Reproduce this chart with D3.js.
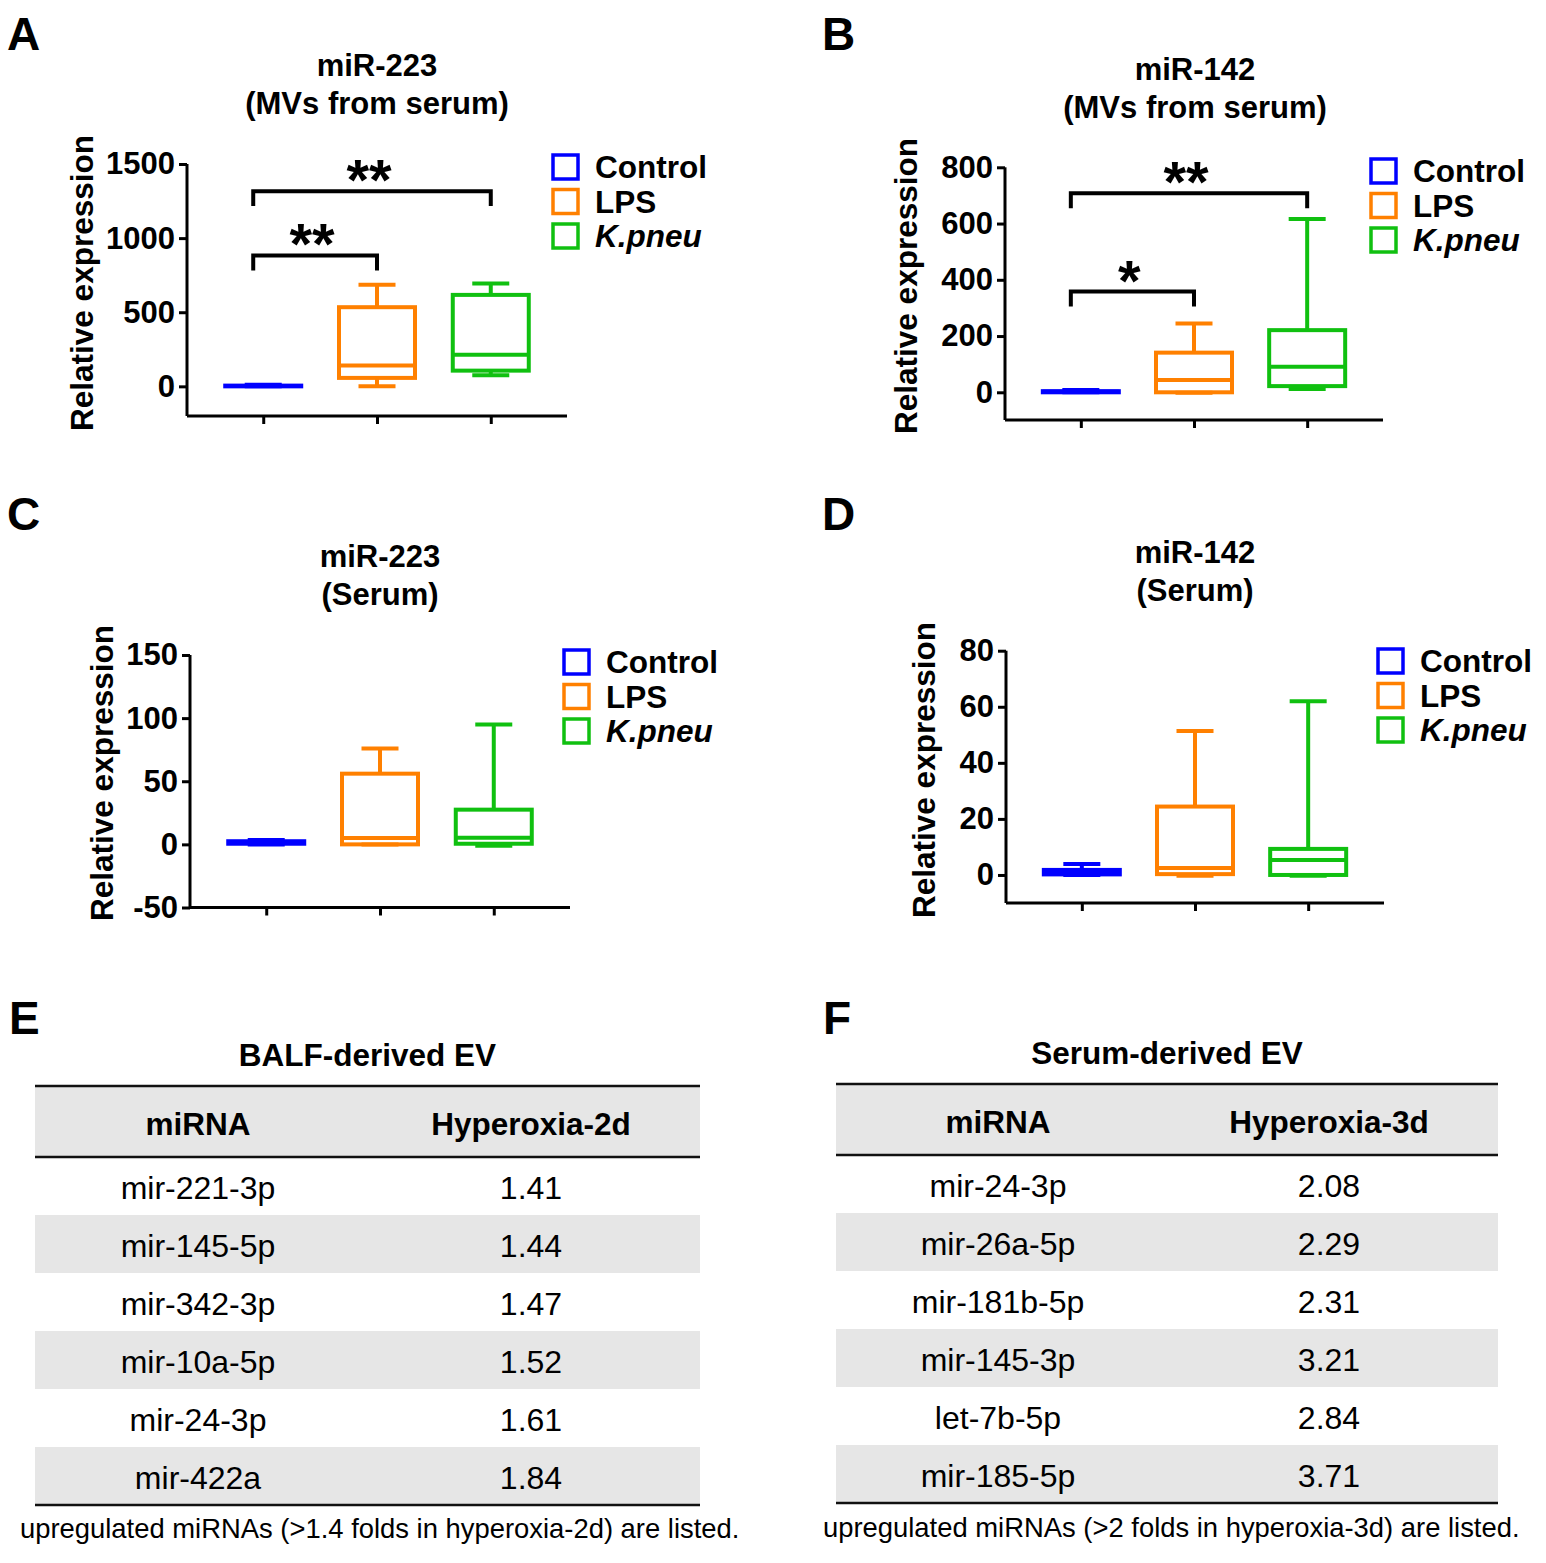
<!DOCTYPE html>
<html>
<head>
<meta charset="utf-8">
<script src="https://cdn.jsdelivr.net/npm/d3@7"></script>
<style>
  html, body { margin: 0; padding: 0; background: #fff; }
  svg { display: block; font-family: Arial, "Liberation Sans", sans-serif; }
</style>
</head>
<body>
<svg id="fig" width="1546" height="1563"></svg>
<script>
// ---------------- DATA ----------------
const groups = ["Control", "LPS", "K.pneu"];
const groupColors = ["#0000ff", "#ff8000", "#10c010"];

// box stats: [min, q1, median, q3, max]
const statsA = [[0, 0, 2, 5, 10], [0, 57, 140, 534, 685], [75, 106, 214, 617, 694]];
const statsB = [[0, 0, 2, 4, 8], [-2, 0, 44, 141, 245], [12, 22, 91, 221, 616]];
const statsC = [[0, 0.5, 1.5, 2.5, 3.5], [0, 0, 5, 56, 76], [-1, 0.5, 5.3, 27.5, 95]];
const statsD = [[0, 0.2, 0.8, 1.8, 3.9], [-0.3, 0.3, 2.5, 24.4, 51.4], [-0.3, 0, 5.3, 9.3, 62]];

const ticksA = [0, 500, 1000, 1500];
const ticksB = [0, 200, 400, 600, 800];
const ticksC = [-50, 0, 50, 100, 150];
const ticksD = [0, 20, 40, 60, 80];

// significance: [fromGroup, toGroup, barLevel, legLevel, label]
const sigA = [["Control", "K.pneu", 1317, 1216, "**"], ["Control", "LPS", 883, 782, "**"]];
const sigB = [["Control", "K.pneu", 708, 654, "**"], ["Control", "LPS", 358, 305, "*"]];
const sigC = [];
const sigD = [];

const titlesA = ["miR-223", "(MVs from serum)"];
const titlesB = ["miR-142", "(MVs from serum)"];
const titlesC = ["miR-223", "(Serum)"];
const titlesD = ["miR-142", "(Serum)"];
const yLabel = "Relative expression";

const tableEHeader = ["miRNA", "Hyperoxia-2d"];
const tableEmiRNA = ["mir-221-3p", "mir-145-5p", "mir-342-3p", "mir-10a-5p", "mir-24-3p", "mir-422a"];
const tableEValues = ["1.41", "1.44", "1.47", "1.52", "1.61", "1.84"];
const tableETitle = "BALF-derived EV";
const tableENote = "upregulated miRNAs (>1.4 folds in hyperoxia-2d) are listed.";

const tableFHeader = ["miRNA", "Hyperoxia-3d"];
const tableFmiRNA = ["mir-24-3p", "mir-26a-5p", "mir-181b-5p", "mir-145-3p", "let-7b-5p", "mir-185-5p"];
const tableFValues = ["2.08", "2.29", "2.31", "3.21", "2.84", "3.71"];
const tableFTitle = "Serum-derived EV";
const tableFNote = "upregulated miRNAs (>2 folds in hyperoxia-3d) are listed.";

// ---------------- LAYOUT ----------------
const svg = d3.select("#fig");

function boxPanel(cfg) {
  const g = svg.append("g");
  const x = d3.scalePoint().domain(groups).range([cfg.x0, cfg.x1]).padding(0.67);
  const y = d3.scaleLinear().domain(cfg.domain).range([cfg.yBottom, cfg.yTop]);
  const boxW = 76, capW = 37;

  // title
  cfg.titles.forEach((t, i) => {
    g.append("text").attr("x", cfg.titleX).attr("y", cfg.titleY + i * 38)
      .attr("text-anchor", "middle").attr("font-weight", "bold").attr("font-size", 31).text(t);
  });

  // y axis
  const yAxis = g.append("g").attr("transform", `translate(${cfg.x0},0)`)
    .call(d3.axisLeft(y).tickValues(cfg.ticks).tickFormat(d => String(d)).tickSize(8).tickPadding(4).tickSizeOuter(0));
  yAxis.select(".domain").attr("stroke-width", 3).attr("d", `M0,${cfg.yBottom}V${y(cfg.ticks[cfg.ticks.length - 1])}`);
  yAxis.selectAll(".tick line").attr("stroke-width", 3);
  yAxis.selectAll(".tick text").attr("font-size", 31).attr("font-weight", "bold")
    .attr("font-family", "Arial, 'Liberation Sans', sans-serif").attr("fill", "#000");

  // x axis
  const xAxis = g.append("g").attr("transform", `translate(0,${cfg.yBottom})`)
    .call(d3.axisBottom(x).tickSize(8).tickFormat("").tickSizeOuter(0));
  xAxis.select(".domain").attr("stroke-width", 3).attr("d", `M${cfg.x0},0H${cfg.x1}`);
  xAxis.selectAll(".tick line").attr("stroke-width", 3);

  // y label
  g.append("text").attr("transform", `translate(${cfg.labelX},${cfg.labelY}) rotate(-90)`)
    .attr("text-anchor", "middle").attr("font-weight", "bold").attr("font-size", 31.5).text(yLabel);

  // boxes
  const bx = g.selectAll("g.box").data(cfg.stats).join("g").attr("class", "box");
  bx.each(function (s, i) {
    const c = groupColors[i];
    const cx = x(groups[i]);
    const gg = d3.select(this).attr("stroke", c).attr("stroke-width", 4).attr("fill", "none");
    gg.append("line").attr("x1", cx).attr("x2", cx).attr("y1", y(s[3])).attr("y2", y(s[4]));
    gg.append("line").attr("x1", cx).attr("x2", cx).attr("y1", y(s[1])).attr("y2", y(s[0]));
    gg.append("line").attr("x1", cx - capW / 2).attr("x2", cx + capW / 2).attr("y1", y(s[4])).attr("y2", y(s[4]));
    gg.append("line").attr("x1", cx - capW / 2).attr("x2", cx + capW / 2).attr("y1", y(s[0])).attr("y2", y(s[0]));
    gg.append("rect").attr("x", cx - boxW / 2).attr("width", boxW)
      .attr("y", y(s[3])).attr("height", Math.max(0.5, y(s[1]) - y(s[3])));
    gg.append("line").attr("x1", cx - boxW / 2).attr("x2", cx + boxW / 2).attr("y1", y(s[2])).attr("y2", y(s[2]));
  });

  // significance brackets
  cfg.sig.forEach(sg => {
    const xa = x(sg[0]) - 10, xb = x(sg[1]);
    const yt = y(sg[2]), yl = y(sg[3]);
    g.append("path").attr("d", `M${xa},${yl}V${yt}H${xb}V${yl}`)
      .attr("fill", "none").attr("stroke", "#000").attr("stroke-width", 4);
    g.append("text").attr("x", (xa + xb) / 2 - 3).attr("y", yt + 9)
      .attr("text-anchor", "middle").attr("font-weight", "bold").attr("font-size", 58).text(sg[4]);
  });

  // legend
  groups.forEach((gname, i) => {
    const ly = cfg.legY + i * 34.5;
    g.append("rect").attr("x", cfg.legX).attr("y", ly - 12).attr("width", 25).attr("height", 24)
      .attr("fill", "none").attr("stroke", groupColors[i]).attr("stroke-width", 3.5);
    g.append("text").attr("x", cfg.legX + 42).attr("y", ly + 11)
      .attr("font-weight", "bold").attr("font-size", 31.5)
      .attr("font-style", gname === "K.pneu" ? "italic" : "normal").text(gname);
  });

  // panel letter
  g.append("text").attr("x", cfg.letterX).attr("y", cfg.letterY)
    .attr("font-weight", "bold").attr("font-size", 46).text(cfg.letter);
}

boxPanel({ letter: "A", letterX: 7, letterY: 50, titles: titlesA, titleX: 377, titleY: 76,
  x0: 187, x1: 567, yTop: 164, yBottom: 416, domain: [-200, 1500], ticks: ticksA,
  stats: statsA, sig: sigA, labelX: 93, labelY: 283, legX: 553, legY: 167 });
boxPanel({ letter: "B", letterX: 822, letterY: 50, titles: titlesB, titleX: 1195, titleY: 80,
  x0: 1005, x1: 1383, yTop: 167.3, yBottom: 420, domain: [-98.5, 800], ticks: ticksB,
  stats: statsB, sig: sigB, labelX: 917, labelY: 286, legX: 1371, legY: 171 });
boxPanel({ letter: "C", letterX: 7, letterY: 530, titles: titlesC, titleX: 380, titleY: 567,
  x0: 190, x1: 570, yTop: 655, yBottom: 907.5, domain: [-50, 150], ticks: ticksC,
  stats: statsC, sig: sigC, labelX: 113, labelY: 773, legX: 564, legY: 662 });
boxPanel({ letter: "D", letterX: 822, letterY: 530, titles: titlesD, titleX: 1195, titleY: 563,
  x0: 1006, x1: 1384, yTop: 650.7, yBottom: 903, domain: [-10, 80], ticks: ticksD,
  stats: statsD, sig: sigD, labelX: 935, labelY: 770, legX: 1378, legY: 661 });

// ---------------- TABLES ----------------
function table(cfg) {
  const g = svg.append("g");
  const rows = d3.scaleBand().domain(d3.range(cfg.names.length)).range([cfg.headBottom, cfg.bottom]);
  g.append("text").attr("x", cfg.letterX).attr("y", cfg.letterY)
    .attr("font-weight", "bold").attr("font-size", 46).text(cfg.letter);
  g.append("text").attr("x", (cfg.x0 + cfg.x1) / 2).attr("y", cfg.titleY)
    .attr("text-anchor", "middle").attr("font-weight", "bold").attr("font-size", 31.5).text(cfg.title);
  g.append("rect").attr("x", cfg.x0).attr("width", cfg.x1 - cfg.x0)
    .attr("y", cfg.top).attr("height", cfg.headBottom - cfg.top).attr("fill", "#e6e6e6");
  g.selectAll("rect.row").data(cfg.names).join("rect").attr("class", "row")
    .attr("x", cfg.x0).attr("width", cfg.x1 - cfg.x0)
    .attr("y", (d, i) => rows(i)).attr("height", rows.bandwidth())
    .attr("fill", (d, i) => i % 2 === 1 ? "#e6e6e6" : "#ffffff");
  [cfg.top, cfg.headBottom, cfg.bottom].forEach(yy => {
    g.append("line").attr("x1", cfg.x0).attr("x2", cfg.x1).attr("y1", yy).attr("y2", yy)
      .attr("stroke", "#111").attr("stroke-width", 2.5);
  });
  cfg.header.forEach((h, j) => {
    g.append("text").attr("x", cfg.cols[j]).attr("y", (cfg.top + cfg.headBottom) / 2 + 13)
      .attr("text-anchor", "middle").attr("font-weight", "bold").attr("font-size", 31.5).text(h);
  });
  const cells = [cfg.names, cfg.values];
  cells.forEach((col, j) => {
    g.selectAll(null).data(col).join("text")
      .attr("x", cfg.cols[j]).attr("y", (d, i) => rows(i) + rows.bandwidth() / 2 + 13)
      .attr("text-anchor", "middle").attr("font-size", 32).text(d => d);
  });
  g.append("text").attr("x", cfg.noteX).attr("y", cfg.noteY)
    .attr("font-size", 27.4).text(cfg.note);
}

table({ letter: "E", letterX: 9, letterY: 1034, title: tableETitle, titleY: 1066,
  x0: 35, x1: 700, top: 1086, headBottom: 1157, bottom: 1505, cols: [198, 531],
  header: tableEHeader, names: tableEmiRNA, values: tableEValues,
  note: tableENote, noteX: 20, noteY: 1538 });
table({ letter: "F", letterX: 823, letterY: 1034, title: tableFTitle, titleY: 1064,
  x0: 836, x1: 1498, top: 1084, headBottom: 1155, bottom: 1503, cols: [998, 1329],
  header: tableFHeader, names: tableFmiRNA, values: tableFValues,
  note: tableFNote, noteX: 823, noteY: 1537 });
</script>
</body>
</html>
